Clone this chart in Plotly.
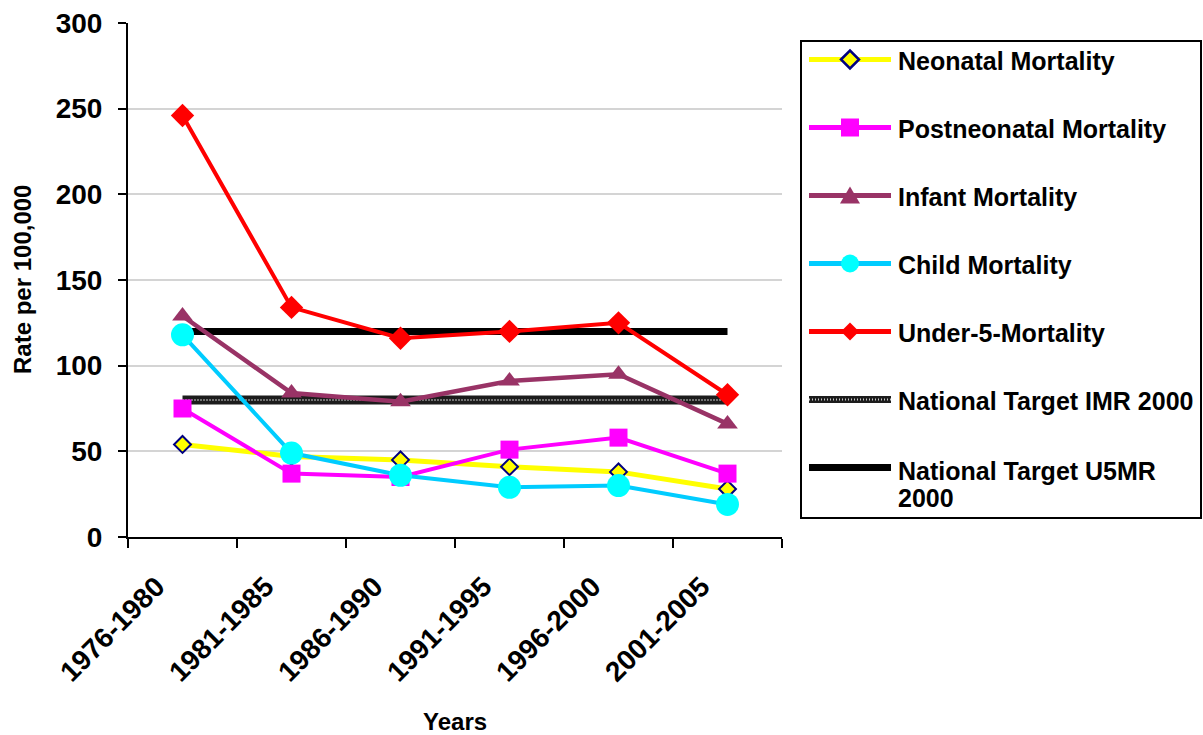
import plotly.graph_objects as go

# Mortality rates per 100,000 by five-year period
categories = ["1976-1980", "1981-1985", "1986-1990", "1991-1995", "1996-2000", "2001-2005"]
neonatal = [54, 47, 45, 41, 38, 28]
postneonatal = [75, 37, 35, 51, 58, 37]
infant = [129, 84, 79, 91, 95, 66]
child = [118, 49, 36, 29, 30, 19]
under5 = [246, 134, 116, 120, 125, 83]
imr_target_2000 = 80
u5mr_target_2000 = 120

y_ticks = [0, 50, 100, 150, 200, 250, 300]

W, H = 1203, 735
FONT = "Liberation Sans, Arial, sans-serif"

# plot area in pixels
PL, PR, PT, PB = 128, 782, 23, 537


def fx(px):
    return px / W


def fy(py):
    return 1 - py / H


series = [
    dict(name="Neonatal Mortality", y=neonatal, line="#ffff00", lw=5,
         symbol="diamond", fill="#ffff00", edge="#000080", ew=2, size=13),
    dict(name="Postneonatal Mortality", y=postneonatal, line="#ff00ff", lw=4,
         symbol="square", fill="#ff00ff", edge="#ff00ff", ew=0, size=18),
    dict(name="Infant Mortality", y=infant, line="#993366", lw=4.5,
         symbol="triangle-up", fill="#993366", edge="#993366", ew=0, size=18),
    dict(name="Child Mortality", y=child, line="#00ccff", lw=4,
         symbol="circle", fill="#00ffff", edge="#00ffff", ew=0, size=23),
    dict(name="Under-5-Mortality", y=under5, line="#ff0000", lw=4,
         symbol="diamond", fill="#ff0000", edge="#ff0000", ew=0, size=18),
]

fig = go.Figure()

# target lines behind the series
fig.add_trace(go.Scatter(
    x=categories, y=[imr_target_2000] * len(categories), mode="lines",
    line=dict(color="#1c1c1c", width=9), showlegend=False, hoverinfo="skip"))
fig.add_trace(go.Scatter(
    x=categories, y=[imr_target_2000] * len(categories), mode="lines",
    line=dict(color="#c8c8c8", width=2, dash="1px,2px"), showlegend=False,
    name="National Target IMR 2000"))
fig.add_trace(go.Scatter(
    x=categories, y=[u5mr_target_2000] * len(categories), mode="lines",
    line=dict(color="#000000", width=7), showlegend=False,
    name="National Target U5MR 2000"))

for s in series:
    fig.add_trace(go.Scatter(
        x=categories, y=s["y"], mode="lines+markers", name=s["name"],
        line=dict(color=s["line"], width=s["lw"]),
        marker=dict(symbol=s["symbol"], size=s["size"], color=s["fill"],
                    line=dict(color=s["edge"], width=s["ew"])),
        showlegend=False))

# legend box drawn as layout shapes and annotations
shapes = []
annotations = []
LX0, LX1, LY0, LY1 = 801, 1201, 41, 518
shapes.append(dict(type="rect", xref="paper", yref="paper",
                   x0=fx(LX0), x1=fx(LX1), y0=fy(LY1), y1=fy(LY0),
                   line=dict(color="black", width=2), fillcolor="white",
                   layer="below"))

ENTRY_Y0, ENTRY_STEP = 59.5, 68
SX0, SX1, SXC, TX = 809, 891, 850, 896


def line_shape(y, color, width, dash="solid"):
    return dict(type="line", xref="paper", yref="paper",
                x0=fx(SX0), x1=fx(SX1), y0=fy(y), y1=fy(y),
                line=dict(color=color, width=width, dash=dash))


def path_shape(pts, fill, edge, ew):
    d = "M " + " L ".join(f"{fx(px):.5f},{fy(py):.5f}" for px, py in pts) + " Z"
    return dict(type="path", xref="paper", yref="paper", path=d,
                fillcolor=fill, line=dict(color=edge, width=ew))


def key_marker(sym, y, s):
    h = 9
    if sym == "diamond":
        pts = [(SXC - h, y), (SXC, y - h), (SXC + h, y), (SXC, y + h)]
        return path_shape(pts, s["fill"], s["edge"], 2.5 if s["ew"] else 0)
    if sym == "square":
        return dict(type="rect", xref="paper", yref="paper",
                    x0=fx(SXC - h), x1=fx(SXC + h), y0=fy(y + h), y1=fy(y - h),
                    fillcolor=s["fill"], line=dict(width=0))
    if sym == "triangle-up":
        pts = [(SXC, y - h), (SXC + h + 1, y + h - 1), (SXC - h - 1, y + h - 1)]
        return path_shape(pts, s["fill"], s["edge"], 0)
    return dict(type="circle", xref="paper", yref="paper",
                x0=fx(SXC - h), x1=fx(SXC + h), y0=fy(y + h), y1=fy(y - h),
                fillcolor=s["fill"], line=dict(width=0))


def key_label(text, y):
    return dict(text=text, xref="paper", yref="paper", x=fx(TX), y=fy(y),
                xanchor="left", yanchor="middle", showarrow=False,
                font=dict(family=FONT, size=25, color="black", weight="bold"))


for i, s in enumerate(series):
    y = ENTRY_Y0 + i * ENTRY_STEP
    shapes.append(line_shape(y, s["line"], 5))
    shapes.append(key_marker(s["symbol"], y, s))
    annotations.append(key_label(s["name"], y + 1.5))

y_imr = ENTRY_Y0 + 5 * ENTRY_STEP
shapes.append(line_shape(y_imr, "#1c1c1c", 7))
shapes.append(line_shape(y_imr, "#c8c8c8", 2, "1px,2px"))
annotations.append(key_label("National Target IMR 2000", y_imr + 1.5))

y_u5 = ENTRY_Y0 + 6 * ENTRY_STEP
shapes.append(line_shape(y_u5, "#000000", 7))
annotations.append(key_label("National Target U5MR", y_u5 + 3))
annotations.append(key_label("2000", y_u5 + 31))

# axis titles
annotations.append(dict(text="Years", xref="paper", yref="paper",
                        x=fx((PL + PR) / 2), y=fy(721), xanchor="center",
                        yanchor="middle", showarrow=False,
                        font=dict(family=FONT, size=24, color="black", weight="bold")))
annotations.append(dict(text="Rate per 100,000", xref="paper", yref="paper",
                        x=fx(22), y=fy((PT + PB) / 2), xanchor="center",
                        yanchor="middle", textangle=-90, showarrow=False,
                        font=dict(family=FONT, size=24, color="black", weight="bold")))

fig.update_layout(
    width=W, height=H,
    margin=dict(l=0, r=0, t=0, b=0),
    paper_bgcolor="white", plot_bgcolor="white",
    showlegend=False,
    shapes=shapes, annotations=annotations,
    xaxis=dict(
        domain=[fx(PL), fx(PR)], type="category", range=[-0.5, 5.5],
        tickson="boundaries", ticks="outside", ticklen=9, tickwidth=2,
        tickcolor="black", showline=True, linecolor="black", linewidth=2,
        showgrid=False, zeroline=False, tickangle=-45,
        tickfont=dict(family=FONT, size=28, color="black", weight="bold"),
        ticklabelstandoff=20, ticklabelshift=-26, automargin=False),
    yaxis=dict(
        domain=[fy(PB), fy(PT)], range=[0, 300], tickvals=y_ticks,
        ticks="outside", ticklen=8, tickwidth=2, tickcolor="black",
        showline=True, linecolor="black", linewidth=2,
        showgrid=True, gridcolor="#d4d4d4", gridwidth=1.5, zeroline=False,
        tickfont=dict(family=FONT, size=28, color="black", weight="bold"),
        ticklabelstandoff=10, automargin=False),
)

fig.write_html("out.html")
